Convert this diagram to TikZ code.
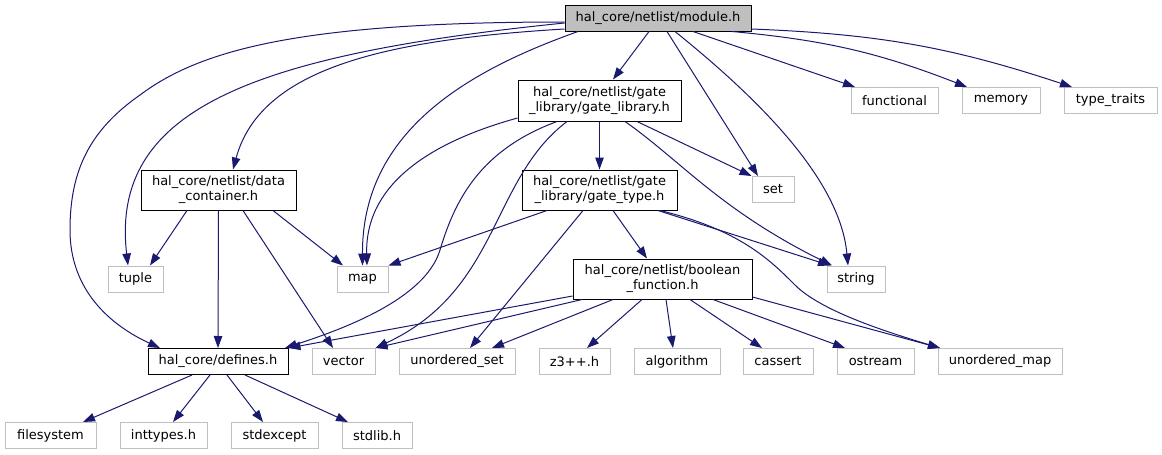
\documentclass[tikz,border=0pt]{standalone}
\usepackage{fontspec}
\setmainfont{DejaVu Sans}
\usetikzlibrary{arrows.meta}
\definecolor{edgeblue}{HTML}{191970}
\definecolor{extframe}{HTML}{BFBFBF}
\definecolor{modfill}{HTML}{BFBFBF}
\begin{document}
\begin{tikzpicture}[x=1pt, y=-1pt,
  incl/.style={draw=black, fill=white, line width=1pt, inner sep=0pt, minimum height=26pt, align=center, font=\fontsize{13}{15}\selectfont},
  ext/.style={incl, draw=extframe},
  dep/.style={draw=edgeblue, line width=1pt, -{Triangle[length=12pt,width=8.5pt]}}]
\useasboundingbox (0,0) rectangle (1162,455);
\node[incl, fill=modfill, minimum width=186pt] (mod) at (658,18) {hal\_core/netlist/module.h};
\node[incl, minimum width=163pt, minimum height=41pt] (glib) at (599.5,100.5) {hal\_core/netlist/gate\\\_library/gate\_library.h};
\node[incl, minimum width=155pt, minimum height=40pt] (data) at (218.5,190) {hal\_core/netlist/data\\\_container.h};
\node[incl, minimum width=155pt, minimum height=40pt] (gtype) at (599.5,190) {hal\_core/netlist/gate\\\_library/gate\_type.h};
\node[incl, minimum width=179pt, minimum height=40pt] (bf) at (662.5,279) {hal\_core/netlist/boolean\\\_function.h};
\node[incl, minimum width=140pt] (def) at (218,361.5) {hal\_core/defines.h};
\node[ext, minimum width=42pt] (set) at (773,189.5) {set};
\node[ext, minimum width=87pt] (func) at (894.5,100.5) {functional};
\node[ext, minimum width=78pt] (mem) at (1001,100.5) {memory};
\node[ext, minimum width=93pt] (tt) at (1110.5,100.5) {type\_traits};
\node[ext, minimum width=55pt] (tuple) at (135.5,279) {tuple};
\node[ext, minimum width=51pt] (map) at (362.5,279) {map};
\node[ext, minimum width=58pt] (str) at (856,279) {string};
\node[ext, minimum width=63pt] (vec) at (343.5,361.5) {vector};
\node[ext, minimum width=116pt] (uset) at (457,361.5) {unordered\_set};
\node[ext, minimum width=71pt] (z3) at (574.5,361.5) {z3++.h};
\node[ext, minimum width=86pt] (algo) at (677,361.5) {algorithm};
\node[ext, minimum width=70pt] (cass) at (778,361.5) {cassert};
\node[ext, minimum width=77pt] (ostr) at (875.5,361.5) {ostream};
\node[ext, minimum width=124pt] (umap) at (1000,361.5) {unordered\_map};
\node[ext, minimum width=91pt] (fs) at (50.5,435.5) {filesystem};
\node[ext, minimum width=87pt] (inttyp) at (163.5,435.5) {inttypes.h};
\node[ext, minimum width=87pt] (stdexc) at (274.5,435.5) {stdexcept};
\node[ext, minimum width=70pt] (stdl) at (377,435.5) {stdlib.h};
\draw[dep] ([xshift=-9pt]mod.south) -- ([xshift=13.5pt]glib.north);
\draw[dep] ([yshift=-11pt]mod.west) .. controls (380,40) and (260,70) .. ([xshift=14.5pt]data.north);
\draw[dep] ([yshift=-5pt]mod.west) .. controls (250,55) and (110,110) .. ([xshift=-7.5pt]tuple.north);
\draw[dep] ([yshift=-4pt]mod.west) .. controls (300,22) and (200,50) .. (140,95) .. controls (90,130) and (70,170) .. (70,230) .. controls (70,290) and (110,325) .. ([xshift=-58pt]def.north);
\draw[dep] ([xshift=-80pt]mod.south) .. controls (470,70) and (362,130) .. (map.north);
\draw[dep] ([xshift=9pt]mod.south) -- ([xshift=-15pt]set.north);
\draw[dep] ([xshift=17pt]mod.south) .. controls (760,100) and (840,180) .. ([xshift=-8pt]str.north);
\draw[dep] ([xshift=35pt]mod.south) -- ([xshift=-39.5pt]func.north);
\draw[dep] ([xshift=74pt]mod.south) to[bend left=8] ([xshift=-34pt]mem.north);
\draw[dep] ([yshift=-11pt]mod.east) to[bend left=8] ([xshift=-38.5pt]tt.north);
\draw[dep] (glib.south) -- (gtype.north);
\draw[dep] ([xshift=37.5pt]glib.south) -- (set.north west);
\draw[dep] ([xshift=25.5pt]glib.south) .. controls (680,160) and (720,210) .. ([xshift=-24pt]str.north);
\draw[dep] ([yshift=-17.5pt]glib.west) .. controls (420,145) and (365,190) .. ([xshift=4.5pt]map.north);
\draw[dep] ([xshift=-42.5pt]glib.south) .. controls (480,150) and (455,200) .. (440,250) .. controls (425,300) and (340,330) .. ([xshift=67pt]def.north);
\draw[dep] ([xshift=-32.5pt]glib.south) .. controls (490,180) and (500,290) .. (vec.north east);
\draw[dep] ([xshift=-31.5pt]data.south) -- ([xshift=14.5pt]tuple.north);
\draw[dep] (data.south) -- (def.north);
\draw[dep] ([xshift=24.5pt]data.south) -- ([xshift=-10.5pt]vec.north);
\draw[dep] ([xshift=54.5pt]data.south) -- ([xshift=-19.5pt]map.north);
\draw[dep] ([xshift=-52.5pt]gtype.south) -- (map.north east);
\draw[dep] ([xshift=58.5pt]gtype.south) -- ([xshift=-26pt]str.north);
\draw[dep] ([xshift=60.5pt]gtype.south) .. controls (740,230) and (770,260) .. (795,285) .. controls (820,310) and (880,330) .. ([xshift=-60pt]umap.north);
\draw[dep] ([xshift=13.5pt]gtype.south) -- ([xshift=-15.5pt]bf.north);
\draw[dep] ([xshift=-16.5pt]gtype.south) -- ([xshift=13pt]uset.north);
\draw[dep] ([yshift=-17pt]bf.west) -- (def.north east);
\draw[dep] ([xshift=-80.5pt]bf.south) -- (vec.north east);
\draw[dep] ([xshift=-49.5pt]bf.south) -- ([xshift=35pt]uset.north);
\draw[dep] ([xshift=-20.5pt]bf.south) -- ([xshift=12.5pt]z3.north);
\draw[dep] ([xshift=3.5pt]bf.south) -- ([xshift=-4pt]algo.north);
\draw[dep] ([xshift=27.5pt]bf.south) -- ([xshift=-16pt]cass.north);
\draw[dep] ([xshift=50.5pt]bf.south) -- ([xshift=-30.5pt]ostr.north);
\draw[dep] ([yshift=-18pt]bf.east) -- ([xshift=-60pt]umap.north);
\draw[dep] ([xshift=-26pt]def.south) -- ([xshift=32.5pt]fs.north);
\draw[dep] ([xshift=-8pt]def.south) -- ([xshift=9.5pt]inttyp.north);
\draw[dep] ([xshift=9pt]def.south) -- ([xshift=-11.5pt]stdexc.north);
\draw[dep] ([xshift=27pt]def.south) -- ([xshift=-29pt]stdl.north);
\end{tikzpicture}
\end{document}
